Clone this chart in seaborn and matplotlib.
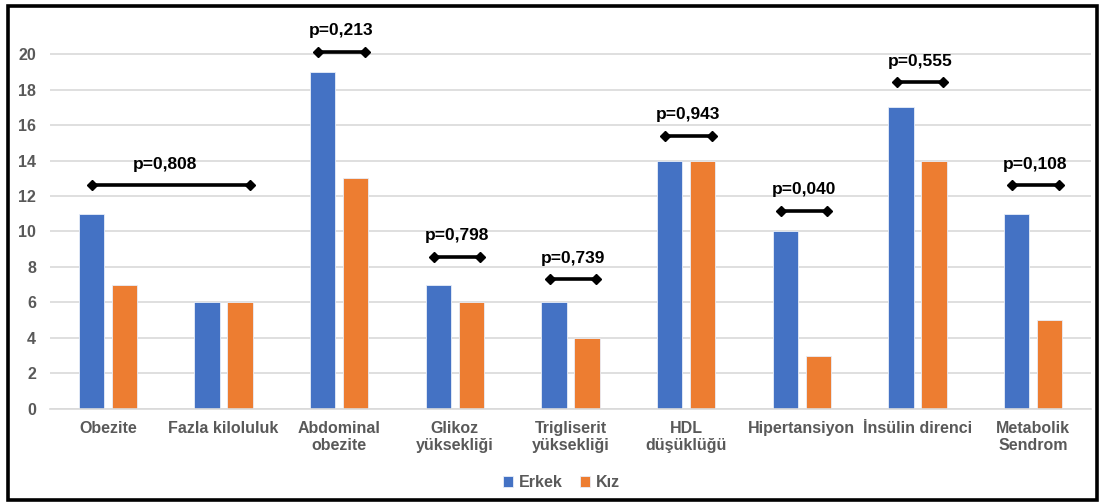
import matplotlib
matplotlib.use("Agg")
import matplotlib.pyplot as plt
from matplotlib.patches import Rectangle
import pandas as pd
import seaborn as sns

# Categories and counts per sex
categories = ["Obezite", "Fazla kiloluluk", "Abdominal\nobezite", "Glikoz\nyüksekliği",
              "Trigliserit\nyüksekliği", "HDL\ndüşüklüğü", "Hipertansiyon",
              "İnsülin direnci", "Metabolik\nSendrom"]
erkek = [11, 6, 19, 7, 6, 14, 10, 17, 11]
kiz = [7, 6, 13, 6, 4, 14, 3, 14, 5]
groups = ["Erkek", "Kız"]

# p-value brackets: label, start category, end category, level
p_labels = ["p=0,808", "p=0,213", "p=0,798", "p=0,739", "p=0,943",
            "p=0,040", "p=0,555", "p=0,108"]
p_start = [0, 2, 3, 4, 5, 6, 7, 8]
p_end = [1, 2, 3, 4, 5, 6, 7, 8]
p_level = [12.6, 20.1, 8.55, 7.3, 15.4, 11.15, 18.4, 12.6]

colors = {"Erkek": "#4472C4", "Kız": "#ED7D31"}
text_gray = "#595959"
grid_gray = "#D9D9D9"

df = pd.DataFrame({
    "Kategori": categories * 2,
    "Cinsiyet": [groups[0]] * len(categories) + [groups[1]] * len(categories),
    "Sayı": erkek + kiz,
})

sns.set_theme(style="white")
plt.rcParams["font.family"] = ["Liberation Sans", "DejaVu Sans"]

fig = plt.figure(figsize=(11.05, 5.03), dpi=100)
ax = fig.add_axes([0.0453, 0.1869, 0.9420, 0.7763])

sns.barplot(data=df, x="Kategori", y="Sayı", hue="Cinsiyet", order=categories,
            hue_order=groups, palette=colors, saturation=1, width=0.57, gap=0.23,
            edgecolor="#E8EEF8", linewidth=0.6, ax=ax, legend=True)

ax.set_xlim(-0.5, len(categories) - 0.5)
ax.set_ylim(0, 22)
ax.set_yticks(range(0, 21, 2))
ax.yaxis.grid(True, color=grid_gray, linewidth=1.2)
ax.set_axisbelow(True)
for side in ["top", "right", "left"]:
    ax.spines[side].set_visible(False)
ax.spines["bottom"].set_color(grid_gray)
ax.spines["bottom"].set_linewidth(1.2)
ax.set_xlabel("")
ax.set_ylabel("")
ax.tick_params(axis="both", length=0)
ax.tick_params(axis="y", pad=10)
ax.tick_params(axis="x", pad=9)
for lab in ax.get_yticklabels():
    lab.set_fontsize(11.5)
    lab.set_fontweight("bold")
    lab.set_color(text_gray)
for lab in ax.get_xticklabels():
    lab.set_fontsize(11.5)
    lab.set_fontweight("bold")
    lab.set_color(text_gray)
    lab.set_linespacing(1.1)

# p-value brackets with diamond end caps
for lbl, s, e, lev in zip(p_labels, p_start, p_end, p_level):
    if s == e:
        x0, x1 = s - 0.18, e + 0.22
        xt = (x0 + x1) / 2
    else:
        x0, x1 = s - 0.137, e + 0.229
        xt = (x0 + x1) / 2 - 0.05
    ax.plot([x0, x1], [lev, lev], color="black", lw=2.6, marker="D",
            markersize=5.5, solid_capstyle="butt", clip_on=False, zorder=5)
    ax.text(xt, lev + 1.2, lbl, ha="center", va="center",
            fontsize=12.5, fontweight="bold", color="black", zorder=6)

# Legend below the plot
handles, labels = ax.get_legend_handles_labels()
ax.get_legend().remove()
leg = fig.legend(handles, labels, loc="center", bbox_to_anchor=(0.508, 0.04),
                 ncol=2, frameon=False, handlelength=0.65, handleheight=0.65,
                 handletextpad=0.35, columnspacing=1.1,
                 prop={"size": 11.5, "weight": "bold"})
for t in leg.get_texts():
    t.set_color(text_gray)

# Outer frame around the figure
fig.patches.append(Rectangle((0.0075, 0.006), 0.985, 0.982, transform=fig.transFigure,
                             fill=False, edgecolor="black", linewidth=2.6))

fig.savefig("out.png", dpi=100, facecolor="white")
